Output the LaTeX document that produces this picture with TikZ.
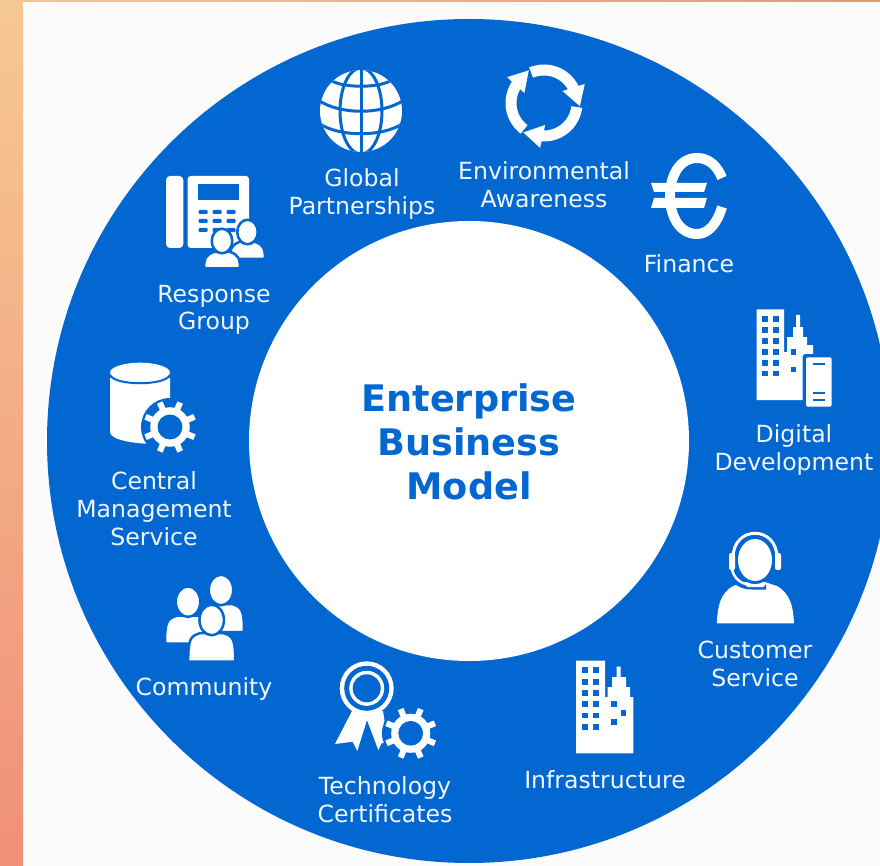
\documentclass[tikz,border=0pt]{standalone}
\usepackage{fontspec}
\setmainfont{DejaVu Sans}
\definecolor{ringblue}{HTML}{0267D0}
\definecolor{pagebg}{HTML}{FBFBFB}
\definecolor{txt}{HTML}{F1F6FC}
\definecolor{peach}{HTML}{F6C892}
\definecolor{salmon}{HTML}{F09078}
\newcommand{\lbl}[1]{\rule[-5pt]{0pt}{28pt}#1}
\newcommand{\gearicon}[3]{%
  \begin{scope}[shift={(#1,#2)}]
    \fill[ringblue] (0,0) circle ({#3+3});
    \fill[white] (0,0) circle ({#3*0.76});
    \foreach \a in {0,45,...,315}{\draw[white,line width=6pt] (\a+22.5:{#3*0.6}) -- (\a+22.5:{#3*1.02});}
    \fill[ringblue] (0,0) circle ({#3*0.48});
  \end{scope}}
\newcommand{\personicon}[7]{% cx headcy rx ry halfw top bottom
  \fill[white,draw=ringblue,line width=2.5pt,line join=round]
    ({#1-#5-1},{#7+1}) .. controls ({#1-#5-1},{#6+5}) and ({#1-#5+1},{#6+2}) .. ({#1-#5*0.5},{#6-1})
    -- ({#1+#5*0.5},{#6-1}) .. controls ({#1+#5-1},{#6+2}) and ({#1+#5+1},{#6+5}) .. ({#1+#5+1},{#7+1}) -- cycle;
  \fill[white,draw=ringblue,line width=2.5pt] (#1,#2) ellipse [x radius={#3+1.25},y radius={#4+1.25}];}
\tikzset{
  label text/.style={text=txt,font=\fontsize{23.6}{28}\selectfont,align=center,inner sep=0pt},
  title text/.style={text=ringblue,font=\fontsize{36.6}{44}\bfseries\selectfont,align=center,inner sep=0pt},
  icon/.style={fill=white,draw=none},
  cut/.style={fill=ringblue,draw=none},
}
\begin{document}
\begin{tikzpicture}[x=1pt,y=-1pt]
\useasboundingbox (0,0) rectangle (880,866);
\clip (0,0) rectangle (880,866);
\fill[pagebg] (0,0) rectangle (880,866);
\fill[top color=peach,bottom color=salmon] (0,0) rectangle (23,866);
\fill[left color=peach,right color=salmon] (0,0) rectangle (880,2);
% ring
\fill[ringblue] (469,441) circle (422);
\fill[white] (469,441) circle (220);
% title
\node[title text] (title) at (469,442) {Enterprise\\Business\\Model};
% labels
\node[label text] (global) at (362,192) {\lbl{Global}\\\lbl{Partnerships}};
\node[label text] (env) at (544,185) {\lbl{Environmental}\\\lbl{Awareness}};
\node[label text] (fin) at (689,264) {\lbl{Finance}};
\node[label text] (dig) at (794,447) {\lbl{Digital}\\\lbl{Development}};
\node[label text] (cust) at (755,663) {\lbl{Customer}\\\lbl{Service}};
\node[label text] (infra) at (605,779) {\lbl{Infrastructure}};
\node[label text] (tech) at (385,799) {\lbl{Technology}\\\lbl{Certificates}};
\node[label text] (comm) at (204,686) {\lbl{Community}};
\node[label text] (cent) at (154,508) {\lbl{Central}\\\lbl{Management}\\\lbl{Service}};
\node[label text] (resp) at (214,307) {\lbl{Response}\\\lbl{Group}};
% globe
\fill[icon] (361,111) circle (41);
\begin{scope}
  \clip (361,111) circle (41);
  \draw[ringblue,line width=3pt] (361,60) -- (361,160);
  \draw[ringblue,line width=3pt] (361,111) ellipse [x radius=21,y radius=43];
  \draw[ringblue,line width=3pt] (332,81) .. controls (345,88) and (377,88) .. (390,81);
  \draw[ringblue,line width=3pt] (318,100) .. controls (340,115) and (382,115) .. (404,100);
  \draw[ringblue,line width=3pt] (320,124) .. controls (340,137) and (382,137) .. (402,124);
\end{scope}
% recycle
\begin{scope}[shift={(544,103)}]
  \foreach \t in {5,125,245}{
    \draw[white,line width=11pt] plot[domain=\t-118:\t-28,samples=20,smooth] (\x:33);
    \fill[white] (\t:36) -- (\t-30:45) -- (\t-33:33) -- (\t-38:22) -- cycle;
  }
\end{scope}
% euro
\draw[white,line width=10pt] (722,178) .. controls (717,165) and (708,158) .. (697,158)
  .. controls (680,158) and (670,175) .. (670,196)
  .. controls (670,217) and (680,234) .. (697,234)
  .. controls (708,234) and (717,224) .. (722,207);
\fill[icon] (651,183) -- (707,183) -- (704,192) -- (654,192) -- cycle;
\fill[icon] (654,198) -- (707,198) -- (704,208) -- (651,208) -- cycle;
% digital building
\fill[icon] (756.7,309.3) -- (784,309.3) -- (784,352) -- (787,352) -- (787,337) -- (793,337) -- (793,327) -- (796,327) -- (796,315) -- (800,315) -- (800,327) -- (803,327) -- (803,337) -- (807,337) -- (807,345) -- (813,345) -- (813,400) -- (756.7,400) -- cycle;
\foreach \yy in {319.3,330,341,351.7,362.7,373.3}{
  \foreach \xx in {765,775.7}{\fill[cut] (\xx-2.8,\yy-2.8) rectangle (\xx+2.8,\yy+2.8);}}
\foreach \yy in {351.7,369.3}{\fill[cut] (793.3-2.8,\yy-2.8) rectangle (793.3+2.8,\yy+2.8);}
\fill[ringblue,rounded corners=3pt] (802.5,354) rectangle (835,410);
\fill[white,rounded corners=2pt] (806,357.3) rectangle (831.7,406.7);
\draw[ringblue,line width=2pt] (812.7,364.3) -- (825,364.3);
\draw[ringblue,line width=2pt] (812.7,393.3) -- (825,393.3);
\draw[ringblue,line width=2pt] (812.7,400) -- (825,400);
% customer service
\fill[icon] (716.7,623.3) .. controls (718,605) and (720,594) .. (733,586) -- (745,582) -- (765,582) -- (777,586) .. controls (790,594) and (793,605) .. (794,623.3) -- cycle;
\draw[ringblue,line width=5pt] (729,566) .. controls (731,582) and (741,587) .. (752,587) -- (766,587);
\draw[white,line width=2.5pt] (731.5,567) .. controls (733,578) and (741,584.5) .. (750,584.5);
\fill[white,rounded corners=2pt] (746,582.5) rectangle (765,587);
\fill[ringblue] (755,560) ellipse [x radius=20,y radius=24];
\fill[white] (755,560) ellipse [x radius=17,y radius=21];
\draw[white,line width=3pt] (733,558) .. controls (733,525) and (777,525) .. (777,558);
\fill[white,rounded corners=2pt] (729,553) rectangle (735,570);
\fill[white,rounded corners=2pt] (775,553) rectangle (781,570);
% infrastructure
\fill[icon] (576,660.7) -- (605,660.7) -- (605,697) -- (607.5,697) -- (607.5,687) -- (612,687) -- (612,677) -- (616.5,677) -- (616.5,666.7) -- (620.5,666.7) -- (620.5,677) -- (626,677) -- (626,687) -- (630,687) -- (630,697) -- (633.3,697) -- (633.3,753.3) -- (576,753.3) -- cycle;
\foreach \yy in {670,681.7,692.7,704,715.3,726.7}{
  \foreach \xx in {585,595.7}{\fill[cut] (\xx-2.8,\yy-2.8) rectangle (\xx+2.8,\yy+2.8);}}
\fill[cut] (614-2.8,704-2.8) rectangle (614+2.8,704+2.8);
\fill[cut] (623.3-2.8,712.7-2.8) rectangle (623.3+2.8,712.7+2.8);
\fill[cut] (614-2.8,722-2.8) rectangle (614+2.8,722+2.8);
% phone
\fill[white,rounded corners=4pt] (166,176) rectangle (183.3,248);
\fill[white,rounded corners=3pt] (187.7,176) rectangle (249,248);
\fill[cut] (198,184) rectangle (239,200);
\foreach \yy in {212,221,230}{
  \foreach \xx in {203,217,231}{\fill[cut,rounded corners=1pt] (\xx-4.5,\yy-2) rectangle (\xx+4.5,\yy+2);}}
\personicon{247.5}{232}{9}{11}{16.5}{243}{258}
\personicon{222}{241}{9}{11}{17}{253}{267.5}
% cylinder and gear
\fill[white] (110,378) -- (110,432) .. controls (110,440) and (135,444) .. (155,444) -- (170,444) -- (170,378) -- cycle;
\fill[white] (140,372.7) ellipse [x radius=30,y radius=10];
\draw[ringblue,line width=2pt] (110,375) .. controls (115,386) and (165,386) .. (170,375);
\gearicon{170}{427}{26}
% community
\personicon{221}{590}{11}{14}{22}{605}{631}
\personicon{188}{601.7}{11}{14}{22}{616.7}{642.7}
\personicon{211.7}{620}{11}{14}{22.5}{634}{660.7}
% rosette
\fill[icon] (352,711) -- (335,744) -- (352.7,741.7) -- (357.3,751) -- (367,720) -- (378.3,750) -- (381.7,743) -- (388,743) -- (383,711) -- cycle;
\fill[white] (366.7,688.3) circle (27);
\fill[ringblue] (366.7,688.3) circle (22.5);
\fill[white] (366.7,688.3) circle (17.5);
\fill[ringblue] (366.7,688.3) circle (14);
\gearicon{410.7}{733.3}{25.7}
\end{tikzpicture}
\end{document}
